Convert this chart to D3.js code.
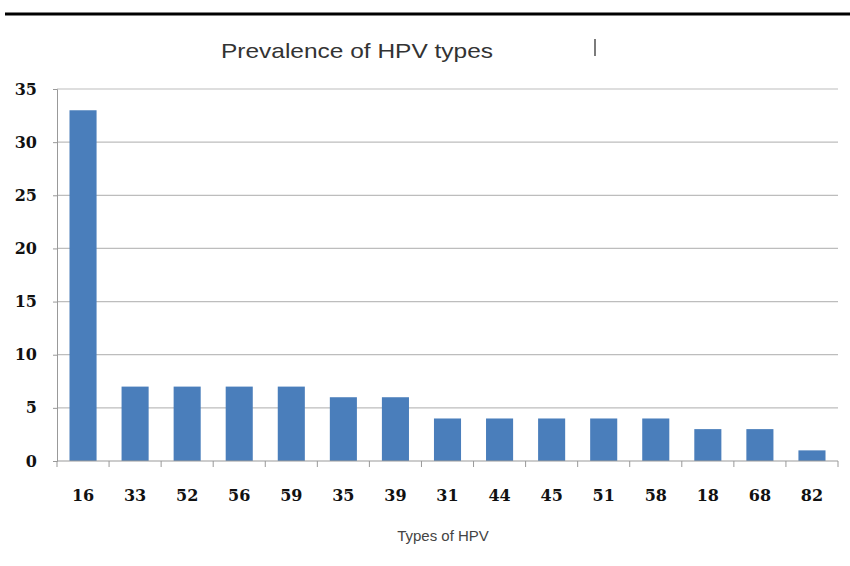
<!DOCTYPE html>
<html><head><meta charset="utf-8">
<script src="https://cdn.jsdelivr.net/npm/d3@7"></script>
<style>body{margin:0;background:#fff}svg{display:block}</style>
</head><body>
<svg id="c" width="850" height="566"></svg>
<script>
const categories = ["16","33","52","56","59","35","39","31","44","45","51","58","18","68","82"];
const values = [33,7,7,7,7,6,6,4,4,4,4,4,3,3,1];
const yTicks = [0,5,10,15,20,25,30,35];
const title = "Prevalence of HPV types";
const xTitle = "Types of HPV";

(function(){
const svg = d3.select("#c");
const mLeft = 57, mRight = 838, mTop = 89, mBottom = 461;

svg.append("line").attr("x1",5).attr("x2",850).attr("y1",14).attr("y2",14)
  .attr("stroke","#000").attr("stroke-width",3);

svg.append("text").attr("x",221).attr("y",58)
  .attr("font-family","Liberation Sans, Arial, sans-serif").attr("font-size",21)
  .attr("textLength",272).attr("lengthAdjust","spacingAndGlyphs")
  .attr("fill","#333").text(title);
svg.append("line").attr("x1",595).attr("x2",595).attr("y1",39).attr("y2",56)
  .attr("stroke","#444").attr("stroke-width",1.4);

const x = d3.scaleBand().domain(categories).range([mLeft,mRight]).paddingInner(0.48).paddingOuter(0.24);
const y = d3.scaleLinear().domain([0,35]).range([mBottom,mTop]);

svg.append("g").selectAll("line").data(yTicks.filter(d=>d>0)).join("line")
  .attr("x1",mLeft).attr("x2",mRight).attr("y1",d=>y(d)).attr("y2",d=>y(d))
  .attr("stroke","#bdbdbd").attr("stroke-width",1.2);

const ya = svg.append("g").attr("transform",`translate(${mLeft},0)`)
  .call(d3.axisLeft(y).tickValues(yTicks).tickSize(4).tickPadding(16));
ya.select(".domain").attr("stroke","#999");
ya.selectAll(".tick line").attr("stroke","#999");
ya.selectAll("text").attr("font-family","DejaVu Serif, serif").attr("font-weight","bold")
  .attr("font-size",16).attr("fill","#111");

svg.append("g").selectAll("rect").data(values).join("rect")
  .attr("x",(d,i)=>x(categories[i])).attr("width",x.bandwidth())
  .attr("y",d=>y(d)).attr("height",d=>y(0)-y(d)).attr("fill","#4a7ebb");

const xs = d3.scalePoint().domain(d3.range(categories.length+1)).range([mLeft,mRight]);
const xa = svg.append("g").attr("transform",`translate(0,${mBottom})`);
xa.append("line").attr("x1",mLeft).attr("x2",mRight).attr("stroke","#999").attr("stroke-width",1.2);
xa.selectAll(".tk").data(d3.range(categories.length+1)).join("line").attr("class","tk")
  .attr("x1",d=>xs(d)).attr("x2",d=>xs(d)).attr("y1",0).attr("y2",6).attr("stroke","#999");
xa.selectAll(".lb").data(categories).join("text").attr("class","lb")
  .attr("x",d=>x(d)+x.bandwidth()/2).attr("y",40).attr("text-anchor","middle")
  .attr("font-family","DejaVu Serif, serif").attr("font-weight","bold").attr("font-size",16)
  .attr("fill","#111").text(d=>d);

svg.append("text").attr("x",443).attr("y",541).attr("text-anchor","middle")
  .attr("font-family","Liberation Sans Narrow, Liberation Sans, Arial, sans-serif").attr("font-size",15)
  .attr("fill","#444").text(xTitle);
})();
</script>
</body></html>
